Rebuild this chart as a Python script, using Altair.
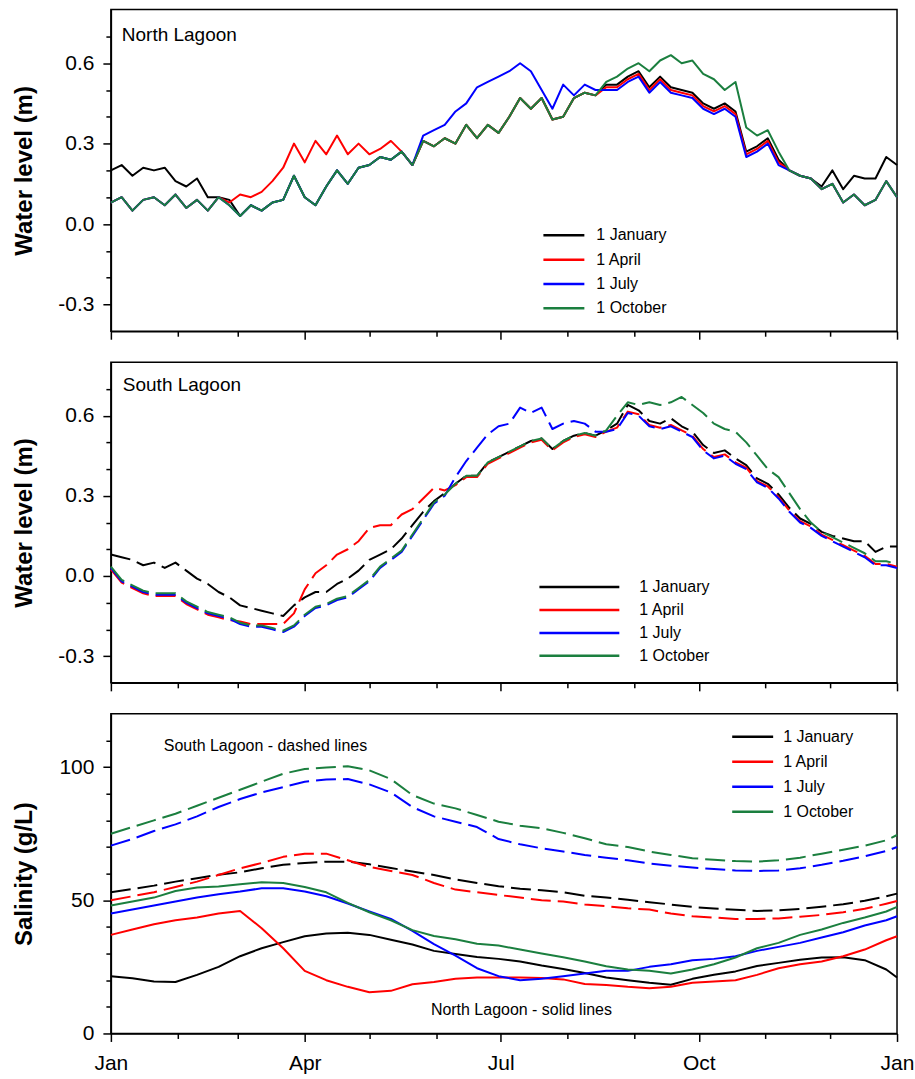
import altair as alt
import pandas as pd

FONT = "Liberation Sans"
labels = ["1 January", "1 April", "1 July", "1 October"]
colors = ["#000000", "#ff0000", "#0000ff", "#1b7f3f"]

# day-of-year grids
days_wl = list(range(0, 365, 5)) + [365]
days_sal = list(range(0, 365, 10)) + [365]

# ---- North Lagoon water level (m) ----
nwl_jan = [0.20,0.22,0.18,0.21,0.20,0.21,0.16,0.14,0.17,0.10,0.10,0.09,
           0.03,0.07,0.05,0.08,0.09,0.18,0.10,0.07,0.14,0.20,0.15,0.21,0.22,0.25,0.24,0.27,0.22,0.31,0.29,0.32,0.30,0.37,0.32,0.37,0.34,0.40,0.47,0.43,0.47,0.39,0.40,0.47,0.49,0.48,
           0.52,0.52,0.55,0.57,0.51,0.55,0.51,0.50,0.49,0.45,0.43,0.45,0.42,0.27,0.29,0.32,0.24,
           0.20,0.18,0.17,0.14,0.20,0.13,0.18,0.17,0.17,0.25,0.22]
nwl_apr = [0.08,0.10,0.05,0.09,0.10,0.07,0.11,0.06,0.09,0.05,0.10,
           0.08,0.11,0.10,0.12,0.16,0.21,0.30,0.23,0.31,0.26,0.33,0.26,0.30,0.26,0.28,0.31,0.27,0.22,
           0.31,0.29,0.32,0.30,0.37,0.32,0.37,0.34,0.40,0.47,0.43,0.47,0.39,0.40,0.47,0.49,0.48,
           0.51,0.51,0.54,0.56,0.50,0.54,0.50,0.49,0.48,0.44,0.42,0.44,0.41,0.26,0.28,0.31,0.23,
           0.20,0.18,0.17,0.13,0.15,0.08,0.11,0.07,0.09,0.16,0.10]
nwl_jul = [0.08,0.10,0.05,0.09,0.10,0.07,0.11,0.06,0.09,0.05,0.10,0.07,0.03,0.07,0.05,0.08,0.09,0.18,0.10,0.07,0.14,0.20,0.15,0.21,0.22,0.25,0.24,0.27,0.22,
           0.33,0.35,0.37,0.42,0.45,0.51,0.53,0.55,0.57,0.60,0.57,0.50,0.43,0.52,0.48,0.52,0.50,
           0.50,0.50,0.53,0.55,0.49,0.53,0.49,0.48,0.47,0.43,0.41,0.43,0.40,0.25,0.27,0.30,0.22,
           0.20,0.18,0.17,0.13,0.15,0.08,0.11,0.07,0.09,0.16,0.10]
nwl_oct = [0.08,0.10,0.05,0.09,0.10,0.07,0.11,0.06,0.09,0.05,0.10,0.07,0.03,0.07,0.05,0.08,0.09,0.18,0.10,0.07,
           0.14,0.20,0.15,0.21,0.22,0.25,0.24,0.27,0.22,0.31,0.29,0.32,0.30,0.37,0.32,0.37,0.34,0.40,0.47,0.43,
           0.47,0.39,0.40,0.47,0.49,0.48,0.53,0.55,0.58,0.60,0.57,0.61,0.63,0.60,0.61,0.56,0.54,0.50,0.53,0.36,
           0.33,0.35,0.27,0.20,0.18,0.17,0.13,0.15,0.08,0.11,0.07,0.09,0.16,0.10]

# ---- South Lagoon water level (m) ----
swl_jan = [0.08,0.07,0.06,0.04,0.05,0.03,0.05,0.02,-0.01,-0.03,-0.06,-0.08,-0.11,-0.12,-0.13,-0.14,-0.15,-0.11,-0.08,-0.06,-0.06,-0.03,-0.01,0.02,0.06,0.08,0.10,0.14,0.19,0.24,0.28,0.31,
           0.345,0.375,0.375,0.425,0.445,0.465,0.485,0.505,0.515,0.475,0.505,0.525,0.535,0.525,0.545,
           0.57,0.64,0.62,0.58,0.57,0.59,0.56,0.54,0.49,0.46,0.47,0.44,
           0.415,0.365,0.345,0.305,0.255,0.215,0.195,0.165,
           0.15,0.14,0.13,0.13,0.09,0.11,0.11]
swl_apr = [0.025,-0.025,-0.045,-0.065,-0.075,-0.075,-0.075,-0.105,-0.125,-0.145,-0.155,-0.165,
           -0.17,-0.18,-0.18,-0.18,-0.18,-0.14,-0.05,0.01,0.04,0.08,0.10,0.13,0.18,0.19,0.19,0.23,0.25,0.29,0.33,0.32,
           0.34,0.37,0.37,0.42,0.44,0.46,0.48,0.50,0.51,0.47,0.50,0.52,0.53,0.52,0.54,
           0.555,0.615,0.605,0.565,0.555,0.565,0.545,0.525,0.475,0.445,0.455,0.425,0.405,0.355,0.335,0.295,0.245,0.205,0.185,0.155,0.135,0.115,0.095,0.075,0.045,0.045,0.035]
swl_jul = [0.03,-0.02,-0.04,-0.06,-0.07,-0.07,-0.07,-0.10,-0.12,-0.14,-0.15,-0.16,-0.18,-0.19,-0.19,-0.20,-0.21,-0.19,-0.15,-0.12,-0.11,-0.09,-0.08,-0.05,-0.02,0.03,0.06,0.09,0.15,0.21,0.27,0.30,
           0.37,0.43,0.48,0.53,0.56,0.57,0.63,0.61,0.63,0.55,0.57,0.58,0.57,0.54,0.54,
           0.55,0.61,0.60,0.56,0.55,0.56,0.54,0.52,0.47,0.44,0.45,0.42,0.40,0.35,0.33,0.29,0.24,0.20,0.18,0.15,0.13,0.11,0.09,0.07,0.04,0.04,0.03]
swl_oct = [0.035,-0.015,-0.035,-0.055,-0.065,-0.065,-0.065,-0.095,-0.115,-0.135,-0.145,-0.155,-0.175,-0.185,-0.185,-0.195,-0.205,-0.185,-0.145,-0.115,-0.105,-0.085,-0.075,-0.045,-0.015,0.035,0.065,0.095,0.155,0.215,0.275,0.305,
           0.345,0.375,0.375,0.425,0.445,0.465,0.485,0.505,0.515,0.475,0.505,0.525,0.535,0.525,0.545,
           0.60,0.65,0.64,0.65,0.64,0.65,0.67,0.64,0.61,0.57,0.55,0.54,0.50,0.45,0.40,0.37,0.31,0.25,0.20,
           0.165,0.145,0.125,0.105,0.085,0.055,0.055,0.045]

# ---- Salinity (g/L): North Lagoon (solid) ----
nsal_jan = [21.5,20.7,19.5,19.3,22,25,29,32,34.3,36.5,37.5,37.8,37,35.2,33.4,31,29.8,28.7,28,27,
            25.5,24.2,22.7,21,20,19,18.3,20.5,22,23.3,25.3,26.5,27.7,28.5,28.6,27.5,24,21]
nsal_apr = [37,39,41,42.5,43.5,45,46,39.5,32,23.5,20,17.5,15.5,16,18.5,19.3,20.5,21,21,21,
            20.8,20.3,18.6,18.2,17.5,17,17.5,19,19.5,20,22,24.5,26,27,29,31.5,35,36.5]
nsal_jul = [45,46.5,48,49.5,51,52.3,53.3,54.5,54.5,53.3,51.5,48.8,45.8,43,38.5,33.5,29.2,24.5,21.5,20,
            20.5,21.5,22.5,23.5,23.5,25,26,27.5,28,29,31,32.5,34,36,38,40.5,42.5,44]
nsal_oct = [48,49.5,51,53.5,54.8,55.2,56,56.8,56.5,55,53,49,45.5,42.5,38.8,36.6,35.4,33.7,33,31.5,
            30,28.6,27,25.2,24,23.5,22.5,24,26,28.5,32,34,37,39,41.5,43.5,45.8,47.5]
# ---- Salinity (g/L): South Lagoon (dashed) ----
ssal_jan = [53,54.2,55.5,57,58.3,59.6,60.5,62,63.3,64,64.5,64.5,63.5,62.1,60.8,59.5,57.8,56.5,55.3,54.3,
            53.8,53,51.7,51,50.2,49.3,48.4,47.5,46.9,46.4,46,46.2,46.7,47.6,48.5,49.8,51.5,52.5]
ssal_apr = [50,51.5,53,55,57,59.5,62,64,66.3,67.5,67.5,65,62.5,61,59.5,56.5,54,53,52,51,
            50,49.5,48.4,47.8,47,46.5,45,44,43.5,43,43,43.2,43.8,44.5,45.5,46.8,48.7,49.7]
ssal_jul = [70.5,73,76,78.5,81.5,85,88,90.5,92.5,94.5,95.3,95.5,93.5,90.5,85,81.5,79.5,77.5,73,71,
            69.5,68.3,67,66,65,63.8,63,62.3,61.7,61.2,61,61.2,62,63.3,64.8,66.5,68.5,70]
ssal_oct = [75,77.5,80,82.5,85.5,88.5,91.5,94.5,97.5,99.3,99.8,100.3,98.8,95.5,89.5,86.3,84.5,82,79.5,78,
            77,75.3,73.3,71,70,68.3,67,65.8,65.2,64.7,64.5,65,66,67.5,69,70.5,72.5,74.5]

# axis tick values
wl_ticks = [-0.3, -0.2, -0.1, 0.0, 0.1, 0.2, 0.3, 0.4, 0.5, 0.6, 0.7]
sal_ticks = [0, 10, 20, 30, 40, 50, 60, 70, 80, 90, 100, 110]
month_ticks = [alt.DateTime(year=2001, month=m, date=1) for m in range(1, 13)] + [alt.DateTime(year=2002, month=1, date=1)]

BASE = pd.Timestamp("2001-01-01")


def long_df(days, series):
    rows = []
    for lab, vals in zip(labels, series):
        for d, v in zip(days, vals):
            rows.append({"date": BASE + pd.Timedelta(days=d), "value": v, "series": lab})
    return pd.DataFrame(rows)


W = 787
color_enc = alt.Color("series:N", scale=alt.Scale(domain=labels, range=colors), legend=None)
x_dom = alt.Scale(domain=[alt.DateTime(year=2001, month=1, date=1), alt.DateTime(year=2002, month=1, date=1)])


def x_enc(show_labels):
    kw = dict(values=month_ticks, title=None, grid=False, labelFlush=False, labelOverlap=False,
              tickSize={"condition": {"test": "month(datum.value) % 3 == 0", "value": 8}, "value": 5})
    if show_labels:
        kw.update(labelExpr="month(datum.value) % 3 == 0 ? timeFormat(datum.value, '%b') : ''",
                  labelPadding=11, labelFontSize=21)
    else:
        kw["labels"] = False
    return alt.X("date:T", scale=x_dom, axis=alt.Axis(**kw))


def y_enc(domain, ticks, test, label_expr, title, h):
    return alt.Y("value:Q", scale=alt.Scale(domain=domain, nice=False, zero=False),
                 axis=alt.Axis(values=ticks, grid=False, labelOverlap=False, labelFlush=False,
                               tickSize={"condition": {"test": test, "value": 8}, "value": 5},
                               labelExpr=label_expr, labelPadding=9, labelFontSize=21,
                               title=title, titleX=-86, titleY=h / 2, titleAngle=270,
                               titleAlign="center", titleBaseline="middle",
                               titleFontSize=24, titleFontWeight="bold"))


def legend_layers(x1, x2, xt, y0, y1):
    ldf = pd.DataFrame({"series": labels})
    ly = alt.Y("series:N", sort=labels, axis=None,
               scale=alt.Scale(type="point", domain=labels, range=[y0, y1], padding=0))
    rule = alt.Chart(ldf).mark_rule(strokeWidth=2.5).encode(
        x=alt.value(x1), x2=alt.value(x2), y=ly, color=color_enc)
    txt = alt.Chart(ldf).mark_text(align="left", baseline="middle", fontSize=16, font=FONT, color="black").encode(
        x=alt.value(xt), y=ly, text="series:N")
    return [rule, txt]


def note(text, x, y, size, align="left"):
    return alt.Chart(pd.DataFrame({"a": [0]})).mark_text(
        align=align, baseline="middle", fontSize=size, font=FONT, color="black").encode(
        x=alt.value(x), y=alt.value(y), text=alt.value(text))


wl_test = "abs(round(datum.value*10)) % 3 == 0"
wl_label = "abs(round(datum.value*10)) % 3 == 0 ? (datum.value < 0 ? '-' : '') + format(abs(datum.value), '.1f') : ''"

# Panel 1: North Lagoon water level
H1 = 322
df1 = long_df(days_wl, [nwl_jan, nwl_apr, nwl_jul, nwl_oct])
lines1 = alt.Chart(df1).mark_line(strokeWidth=2, strokeJoin="round").encode(
    x=x_enc(False), y=y_enc([-0.4, 0.8], wl_ticks, wl_test, wl_label, "Water level (m)", H1),
    color=color_enc, detail="series:N")
p1 = alt.layer(lines1, *legend_layers(433, 474, 486, 226, 299),
               note("North Lagoon", 11, 25, 19)).resolve_scale(y="independent").properties(width=W, height=H1)

# Panel 2: South Lagoon water level
H2 = 321
df2 = long_df(days_wl, [swl_jan, swl_apr, swl_jul, swl_oct])
lines2 = alt.Chart(df2).mark_line(strokeWidth=2, strokeDash=[20, 7], strokeJoin="round").encode(
    x=x_enc(False), y=y_enc([-0.4, 0.8], wl_ticks, wl_test, wl_label, "Water level (m)", H2),
    color=color_enc, detail="series:N")
p2 = alt.layer(lines2, *legend_layers(429, 509, 529, 225, 294),
               note("South Lagoon", 12, 23, 19)).resolve_scale(y="independent").properties(width=W, height=H2)

# Panel 3: Salinity
H3 = 320
sal_test = "datum.value % 50 == 0"
sal_label = "datum.value % 50 == 0 ? format(datum.value, 'd') : ''"
df3n = long_df(days_sal, [nsal_jan, nsal_apr, nsal_jul, nsal_oct])
df3s = long_df(days_sal, [ssal_jan, ssal_apr, ssal_jul, ssal_oct])
ysal = y_enc([0, 120], sal_ticks, sal_test, sal_label, "Salinity (g/L)", H3)
south3 = alt.Chart(df3s).mark_line(strokeWidth=2, strokeDash=[20, 7], strokeJoin="round").encode(
    x=x_enc(True), y=ysal, color=color_enc, detail="series:N")
north3 = alt.Chart(df3n).mark_line(strokeWidth=2, strokeJoin="round").encode(
    x=x_enc(True), y=ysal, color=color_enc, detail="series:N")
main3 = alt.layer(south3, north3)
p3 = alt.layer(main3, *legend_layers(622, 663, 673, 23, 98),
               note("South Lagoon - dashed lines", 53, 32, 16),
               note("North Lagoon - solid lines", 411, 297, 16, align="center")
               ).resolve_scale(y="independent").properties(width=W, height=H3)

chart = alt.vconcat(p1, p2, p3, spacing=31, bounds="flush").properties(
    padding={"left": 12, "top": 8, "right": 0, "bottom": 0},
    background="white",
).configure_view(stroke="black", strokeWidth=1.5).configure_axis(
    domainColor="black", domainWidth=1.5, tickColor="black", tickWidth=1.5,
    labelColor="black", titleColor="black", labelFont=FONT, titleFont=FONT,
)

chart.save("out.html", embed_options={"renderer": "svg", "actions": False})
